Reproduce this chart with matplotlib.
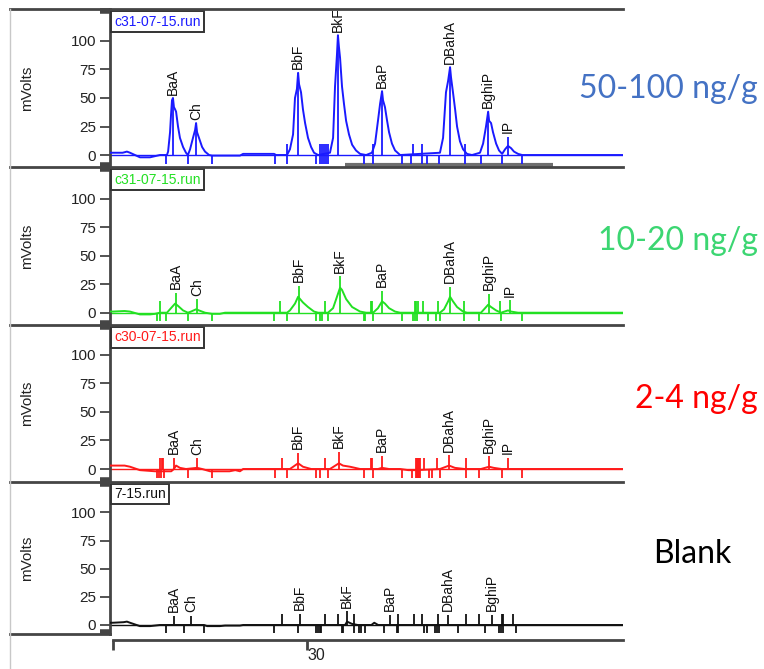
"""Stacked HPLC-FLD chromatograms of the PAH standards at three spike levels plus a blank."""

import matplotlib

matplotlib.use("Agg")
import matplotlib.pyplot as plt
from matplotlib.lines import Line2D

W, H = 764, 669

# ---------------------------------------------------------------- data ----
peak_names = ["BaA", "Ch", "BbF", "BkF", "BaP", "DBahA", "BghiP", "IP"]
run_names = ["c31-07-15.run", "c31-07-15.run", "c30-07-15.run", "7-15.run"]
levels = ["50-100 ng/g", "10-20 ng/g", "2-4 ng/g", "Blank"]

# (retention time [min], signal [mV])
hi_trace = [
    (19.85, 2), (20.00, 2), (20.50, 2), (20.72, 3), (20.88, 2), (21.39, -2), (21.91, -2),
    (22.42, 0), (22.78, 0), (22.84, 3), (22.94, 20), (22.99, 35), (23.04, 48), (23.09, 50),
    (23.14, 42), (23.20, 40), (23.25, 38), (23.35, 25), (23.45, 15), (23.61, 7), (23.76, 2),
    (23.86, 0), (23.97, 5), (24.12, 15), (24.23, 22), (24.28, 28), (24.33, 20), (24.43, 15),
    (24.59, 7), (24.74, 3), (24.95, 0), (25.10, -0.5), (26.54, -0.5), (26.70, 1), (28.29, 1),
    (28.40, 0), (28.96, 0), (29.11, 5), (29.27, 18), (29.37, 50), (29.47, 58), (29.53, 72),
    (29.58, 62), (29.68, 55), (29.78, 40), (29.89, 28), (30.04, 15), (30.20, 7), (30.35, 2),
    (30.56, 0), (31.17, 2), (31.33, 15), (31.43, 60), (31.53, 88), (31.58, 105), (31.63, 95),
    (31.69, 85), (31.79, 60), (31.89, 45), (32.00, 30), (32.15, 18), (32.31, 9), (32.51, 4),
    (32.72, 1), (33.03, 0), (33.33, 2), (33.49, 10), (33.64, 30), (33.75, 45), (33.85, 56),
    (33.90, 48), (34.00, 42), (34.11, 30), (34.21, 20), (34.36, 10), (34.52, 4), (34.78, 0),
    (36.83, 2), (36.99, 15), (37.14, 55), (37.25, 65), (37.35, 77), (37.40, 68), (37.50, 55),
    (37.61, 40), (37.71, 25), (37.86, 12), (38.02, 5), (38.22, 1), (38.48, 0), (38.89, 2),
    (39.05, 10), (39.20, 25), (39.31, 38), (39.36, 30), (39.46, 28), (39.56, 20), (39.72, 10),
    (39.87, 4), (40.03, 1), (40.18, 5), (40.33, 8), (40.49, 6), (40.64, 3), (40.85, 1),
    (41.06, 0), (46.25, 0),
]
hi_peak_t = [23.09, 24.28, 29.53, 31.58, 33.85, 37.35, 39.31, 40.33]
hi_peak_mv = [50, 28, 72, 105, 56, 77, 38, 16]
hi_marks_up = [28.96, 30.66, 30.76, 30.86, 30.97, 31.07, 33.39, 35.44, 35.91, 38.12]
hi_marks_down = [22.73, 23.86, 25.10, 28.34, 28.96, 30.45, 30.66, 30.76, 30.86, 30.97,
                 31.07, 32.92, 33.39, 34.88, 35.34, 35.91, 36.17, 36.78, 38.12, 38.94,
                 40.03, 41.06]
hi_unresolved = (31.94, 42.65)

mid_trace = [
    (19.85, 1), (20.00, 1), (20.60, 1.5), (20.88, 1), (21.39, -1.5), (21.91, -1.5),
    (22.17, -1), (22.42, 0), (22.78, 0), (23.04, 5), (23.20, 8), (23.35, 6), (23.61, 2),
    (23.86, 0), (24.02, 1), (24.28, 3), (24.43, 2), (24.74, 0), (25.10, -1), (25.50, -1),
    (25.77, 0), (28.96, 0), (29.11, 2), (29.37, 8), (29.53, 14), (29.58, 13), (29.78, 9),
    (30.04, 5), (30.35, 1), (30.56, 0), (31.07, 0), (31.33, 4), (31.53, 14), (31.69, 22),
    (31.79, 20), (32.00, 12), (32.31, 5), (32.72, 1), (33.03, 0), (33.39, 0), (33.64, 4),
    (33.85, 10), (34.00, 8), (34.21, 4), (34.52, 1), (34.78, 0), (36.83, 0), (37.04, 3),
    (37.25, 10), (37.35, 14), (37.50, 10), (37.71, 5), (38.02, 1), (38.22, 0), (38.94, 0),
    (39.10, 3), (39.31, 7), (39.46, 5), (39.72, 2), (39.97, 0), (40.33, 2), (40.49, 1),
    (40.85, 0), (46.25, 0),
]
mid_peak_t = [23.25, 24.33, 29.58, 31.69, 33.85, 37.35, 39.36, 40.44]
mid_peak_mv = [17.5, 12, 23.7, 32, 19.5, 23, 16.5, 11]
mid_marks_up = [22.42, 28.60, 30.92, 33.28, 33.33, 35.55, 35.60, 35.70, 35.96, 36.73,
                38.07, 39.92]
mid_marks_down = [22.27, 22.42, 22.73, 23.86, 25.10, 28.29, 28.96, 30.45, 30.66, 30.76,
                  31.07, 32.92, 32.97, 33.39, 34.88, 35.44, 35.55, 35.65, 36.22, 36.63,
                  36.83, 38.07, 38.84, 39.97, 41.06]

low_trace = [
    (19.85, 3), (20.00, 3), (20.60, 3), (20.88, 2), (21.39, -1), (22.17, -2), (23.00, -2),
    (23.14, 0), (23.25, 3), (23.45, 1), (23.76, 0), (24.33, 1), (24.59, 0), (25.00, -2),
    (26.00, -2), (26.30, -1), (26.54, -2), (26.70, 0), (29.11, 0), (29.53, 5), (29.78, 2),
    (30.20, 0), (31.17, 0), (31.63, 5), (31.84, 3), (32.20, 2), (32.72, 0), (33.64, 0),
    (33.85, 1), (34.21, 0), (34.78, 0), (35.20, -1), (35.60, -1), (36.83, 0), (37.30, 3),
    (37.60, 1), (38.10, 0), (38.94, 0), (39.36, 2), (39.60, 1), (40.00, 0), (46.25, 0),
]
low_peak_t = [23.14, 24.33, 29.53, 31.63, 33.85, 37.30, 39.36, 40.33]
low_peak_mv = [10, 9.5, 14.3, 15, 11.6, 12.3, 11, 10]
low_marks_up = [22.42, 22.52, 22.58, 28.70, 30.92, 33.28, 33.33, 35.60, 35.65, 35.70,
                35.75, 35.81, 36.01, 36.68, 38.17]
low_marks_down = [22.27, 22.37, 22.47, 22.63, 23.86, 25.10, 28.34, 28.96, 30.45, 30.66,
                  31.07, 32.92, 33.39, 34.88, 35.39, 35.60, 35.65, 35.70, 35.75, 35.81,
                  36.27, 36.42, 36.83, 38.17, 38.84, 40.03, 41.06]

blank_trace = [
    (19.85, 2), (20.00, 2), (20.55, 2.5), (20.72, 3), (20.88, 2), (21.39, -1), (21.91, -1),
    (22.42, 0), (24.69, 0), (24.85, -1), (25.50, -1), (25.77, -0.5), (26.54, -0.5),
    (26.70, 0), (31.95, 0), (32.05, 3), (32.30, 1), (32.60, 0), (33.30, 0), (33.45, 2),
    (33.65, 0), (46.25, 0),
]
blank_peak_t = [23.14, 24.02, 29.63, 32.05, 34.26, 37.25, 39.51]
blank_peak_mv = [8.3, 8.3, 10, 12, 9, 9, 9]
blank_marks_up = [28.70, 30.92, 31.58, 32.41, 34.67, 35.50, 35.91, 36.73, 38.17, 38.84,
                  40.03, 40.08, 40.59]
blank_marks_down = [22.73, 23.66, 24.69, 28.29, 29.53, 30.45, 30.56, 30.66, 30.71, 31.79,
                    31.84, 32.41, 32.67, 32.77, 32.97, 33.95, 34.62, 34.67, 36.01, 36.17,
                    36.58, 36.68, 36.78, 37.76, 39.15, 39.87, 39.97, 40.08, 40.75]

runs = [
    (hi_trace, hi_peak_t, hi_peak_mv, hi_marks_up, hi_marks_down),
    (mid_trace, mid_peak_t, mid_peak_mv, mid_marks_up, mid_marks_down),
    (low_trace, low_peak_t, low_peak_mv, low_marks_up, low_marks_down),
    (blank_trace, blank_peak_t, blank_peak_mv, blank_marks_up, blank_marks_down),
]

# ---------------------------------------------------------------- style ---
trace_colors = ["#1a1aff", "#22e022", "#ff1a1a", "#111111"]
level_colors = ["#4472c4", "#3cd672", "#ff0000", "#000000"]
frame = "#454545"
X0, X1 = 110, 623
tops = [9, 167, 325, 482]
bottoms = [167, 325, 482, 634]
ylims = [(-10.5, 128), (-10.8, 128), (-11.4, 126.3), (-8.0, 127)]
level_baselines = [98, 250, 408, 563]
level_right = [758, 758, 758, 732]
XLIM = (19.85, 46.25)

plt.rcParams["font.family"] = ["Liberation Sans", "DejaVu Sans"]

fig = plt.figure(figsize=(W / 100, H / 100), dpi=100)


def px_axes(left, top, right, bottom):
    return fig.add_axes([left / W, 1 - bottom / H, (right - left) / W, (bottom - top) / H])


for i, (trace, pk_t, pk_mv, up, down) in enumerate(runs):
    ax = px_axes(X0, tops[i], X1, bottoms[i])
    col = trace_colors[i]
    ax.set_xlim(*XLIM)
    ax.set_ylim(*ylims[i])

    t = [p[0] for p in trace]
    mv = [p[1] for p in trace]
    ax.axhline(0, color=col, lw=1.0, zorder=2)
    ax.plot(t, mv, color=col, lw=1.4, zorder=3)
    ax.vlines(pk_t, 0, pk_mv, color=col, lw=1.3, zorder=3)
    ax.vlines(up, 0, 10, color=col, lw=1.3, zorder=3)
    ax.vlines(down, -7.5, 0, color=col, lw=1.3, zorder=3)
    if i == 0:
        ax.plot(hi_unresolved, [-8.8, -8.8], color="#6e6e6e", lw=3,
                solid_capstyle="butt", zorder=2)

    for name, pt, pm in zip(peak_names, pk_t, pk_mv):
        ax.annotate(name, (pt, pm), xytext=(0, 2.5), textcoords="offset points",
                    rotation=90, ha="center", va="bottom", fontsize=10, color="#111")

    ax.text(0.008, 0.965, run_names[i], transform=ax.transAxes, ha="left", va="top",
            fontsize=10, color=col if i < 3 else "#111",
            bbox=dict(boxstyle="square,pad=0.22", fc="white", ec="#333", lw=1.4))

    ax.set_xticks([])
    ax.set_yticks([0, 25, 50, 75, 100])
    ax.tick_params(axis="y", length=7, width=1.3, color=frame, labelsize=11,
                   labelcolor="#222", pad=3)
    for s in ("top", "right", "bottom"):
        ax.spines[s].set_visible(False)
    ax.spines["left"].set_color(frame)
    ax.spines["left"].set_linewidth(2)
    ax.set_ylabel("mVolts", fontsize=11, color="#222")
    ax.yaxis.set_label_coords(-0.148, 0.5)
    # short stubs where the axis meets the panel frame
    for yy in (0.985, 0.015):
        ax.plot([-0.02, 0], [yy, yy], transform=ax.transAxes, clip_on=False,
                lw=4, color=frame, solid_capstyle="butt")

    fig.text(level_right[i] / W, 1 - level_baselines[i] / H, levels[i],
             color=level_colors[i], fontsize=23, family="Lato",
             ha="right", va="baseline")

# panel frames
for y in tops:
    fig.add_artist(Line2D([10 / W, X1 / W], [1 - y / H] * 2, color=frame, lw=2))
fig.add_artist(Line2D([10 / W, X0 / W], [1 - 634 / H] * 2, color=frame, lw=2))
fig.add_artist(Line2D([10 / W] * 2, [1 - 9 / H, 0], color="#c8c8c8", lw=1))

# time axis
ax_t = px_axes(X0, 639, X1, 640)
ax_t.set_xlim(*XLIM)
ax_t.set_yticks([])
for s in ("top", "right", "left"):
    ax_t.spines[s].set_visible(False)
ax_t.spines["bottom"].set_bounds(20.0, XLIM[1])
ax_t.spines["bottom"].set_color(frame)
ax_t.spines["bottom"].set_linewidth(2)
ax_t.patch.set_visible(False)
ax_t.set_xticks([20, 30], ["", "30"])
ax_t.tick_params(axis="x", length=7, width=2, color=frame, labelsize=11.5,
                 labelcolor="#222", pad=-1)
for lab in ax_t.get_xticklabels():
    lab.set_ha("left")

fig.savefig("out.png", dpi=100)
